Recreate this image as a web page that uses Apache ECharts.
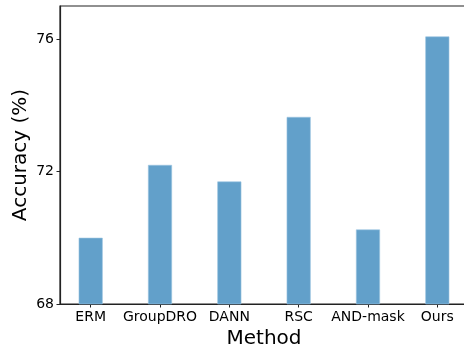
<!DOCTYPE html>
<html>
<head>
<meta charset="utf-8">
<script src="https://cdn.jsdelivr.net/npm/echarts@6/dist/echarts.min.js"></script>
<style>html,body{margin:0;padding:0;background:#fff}#c{width:464px;height:349px}</style>
</head>
<body>
<div id="c"></div>
<script>
var categories = ['ERM', 'GroupDRO', 'DANN', 'RSC', 'AND-mask', 'Ours'];
var accuracy = [70.0, 72.2, 71.7, 73.65, 70.25, 76.08];
var yTicks = [68, 72, 76];
var positions = categories.map(function (c, i) { return i; });

var chart = echarts.init(document.getElementById('c'), null, {renderer: 'canvas'});
var font = 'DejaVu Sans';
chart.setOption({
  animation: false,
  grid: {left: 60, right: -4, top: 6, bottom: 45, show: true, borderColor: '#222', borderWidth: 1.2,
    backgroundColor: 'transparent', containLabel: false, outerBoundsMode: 'none'},
  xAxis: {
    type: 'value', min: -0.4425, max: 5.4425,
    name: 'Method', nameLocation: 'middle', nameGap: 23,
    nameTextStyle: {fontFamily: font, fontSize: 20, color: '#000'},
    axisLine: {show: true, onZero: false, lineStyle: {color: '#222', width: 1.2}},
    axisTick: {show: true, inside: false, length: 3.5, lineStyle: {color: '#222'}, customValues: positions},
    axisLabel: {fontFamily: font, fontSize: 14, color: '#000', margin: 6, customValues: positions,
      formatter: function (v) { return categories[Math.round(v)]; }},
    splitLine: {show: false}
  },
  yAxis: {
    type: 'value', min: 68, max: 77, interval: 4,
    name: 'Accuracy (%)', nameLocation: 'middle', nameGap: 29, nameMoveOverlap: false,
    nameTextStyle: {fontFamily: font, fontSize: 20, color: '#000'},
    axisLine: {show: true, onZero: false, lineStyle: {color: '#222', width: 1.2}},
    axisTick: {show: true, length: 3.5, lineStyle: {color: '#222'}, customValues: yTicks},
    axisLabel: {fontFamily: font, fontSize: 14, color: '#000', margin: 6, customValues: yTicks},
    splitLine: {show: false}
  },
  series: [{
    type: 'bar',
    barWidth: 24,
    data: positions.map(function (p, i) { return [p, accuracy[i]]; }),
    itemStyle: {color: '#62a0ca', borderColor: '#9cc4e0', borderWidth: 0.6}
  }]
});
</script>
</body>
</html>
